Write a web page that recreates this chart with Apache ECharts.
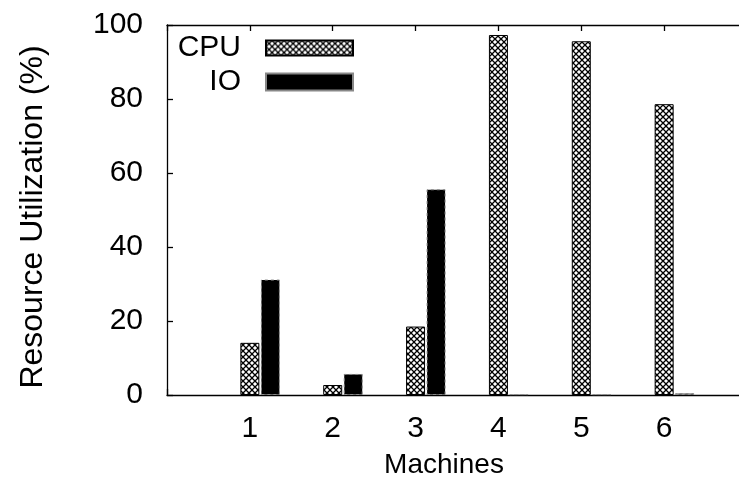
<!DOCTYPE html>
<html>
<head>
<meta charset="utf-8">
<script src="https://cdn.jsdelivr.net/npm/echarts@6/dist/echarts.min.js"></script>
<style>
  html, body { margin: 0; padding: 0; background: #fff; }
  #chart { width: 739px; height: 480px; }
</style>
</head>
<body>
<div id="chart"></div>
<script>
// Machines on the x axis and utilisation per resource
const machines = [1, 2, 3, 4, 5, 6];
const cpuUtil = [14.1, 2.7, 18.5, 97.3, 95.6, 78.6];
const ioUtil = [31.2, 5.7, 55.6, 0.2, 0.2, 0.5];
const yTicks = [0, 20, 40, 60, 80, 100];

const FONT = 'Liberation Sans, Arial, Helvetica, sans-serif';

// Cross-hatched fill used for the CPU bars
function crossHatch() {
  const c = document.createElement('canvas');
  c.width = 6; c.height = 6;
  const g = c.getContext('2d');
  g.fillStyle = '#fff';
  g.fillRect(0, 0, 6, 6);
  g.strokeStyle = '#000';
  g.lineWidth = 1.3;
  g.beginPath();
  g.moveTo(-1, -1); g.lineTo(7, 7);
  g.moveTo(7, -1); g.lineTo(-1, 7);
  g.stroke();
  return c;
}

const chart = echarts.init(document.getElementById('chart'), null, { renderer: 'canvas' });

const axisLine = { show: true, lineStyle: { color: '#000', width: 1.3 } };
const axisTick = { show: true, inside: true, length: 6, lineStyle: { color: '#000', width: 1.3 } };

const legendBase = {
  orient: 'vertical',
  align: 'right',
  right: 385,
  padding: 0,
  icon: 'rect',
  itemWidth: 87,
  selectedMode: false,
  textStyle: { fontSize: 30, fontFamily: FONT, color: '#000', padding: [0, 20, 0, 0] }
};

chart.setOption({
  animation: false,
  backgroundColor: '#fff',
  grid: { left: 167, top: 25, width: 580, height: 370, outerBoundsMode: 'none', containLabel: false },
  legend: [
    Object.assign({}, legendBase, { data: ['CPU'], top: 33, itemHeight: 15 }),
    Object.assign({}, legendBase, { data: ['IO'], top: 67, itemHeight: 17 })
  ],
  xAxis: [
    {
      type: 'value', position: 'bottom', min: 0, max: 7, interval: 1,
      axisLine, axisTick,
      splitLine: { show: false },
      axisLabel: {
        fontSize: 30, fontFamily: FONT, color: '#000', margin: 19,
        formatter: v => (machines.indexOf(v) >= 0 ? String(v) : '')
      },
      name: 'Machines', nameLocation: 'middle', nameGap: 56,
      nameTextStyle: { fontSize: 28, fontFamily: FONT, color: '#000', padding: [0, 26, 0, 0] }
    },
    {
      type: 'value', position: 'top', min: 0, max: 7, interval: 1,
      axisLine, axisTick,
      splitLine: { show: false },
      axisLabel: { show: false }
    }
  ],
  yAxis: {
    type: 'value', min: 0, max: 100, interval: 20,
    axisLine, axisTick,
    splitLine: { show: false },
    axisLabel: {
      fontSize: 30, fontFamily: FONT, color: '#000', margin: 24,
      formatter: v => (yTicks.indexOf(v) >= 0 ? String(v) : '')
    },
    name: 'Resource Utilization (%)', nameLocation: 'middle', nameRotate: 90, nameGap: 118,
    nameTextStyle: { fontSize: 32, fontFamily: FONT, color: '#000', padding: [0, 14, 0, 0] }
  },
  series: [
    {
      // empty slot so the CPU bar sits on the tick and IO to its right
      name: 'slot', type: 'bar', xAxisIndex: 0, barWidth: 19, barGap: '8%',
      data: machines.map(m => [m, '-']), silent: true,
      itemStyle: { color: 'rgba(0,0,0,0)' }
    },
    {
      name: 'CPU', type: 'bar', xAxisIndex: 0, barWidth: 19, barGap: '8%',
      data: machines.map((m, i) => [m, cpuUtil[i]]),
      itemStyle: { color: { image: crossHatch(), repeat: 'repeat' }, borderColor: '#000', borderWidth: 1 }
    },
    {
      name: 'IO', type: 'bar', xAxisIndex: 0, barWidth: 19, barGap: '8%',
      data: machines.map((m, i) => [m, ioUtil[i]]),
      itemStyle: { color: '#000', borderColor: '#888', borderWidth: 1, borderType: [3, 3] }
    }
  ]
});
</script>
</body>
</html>
